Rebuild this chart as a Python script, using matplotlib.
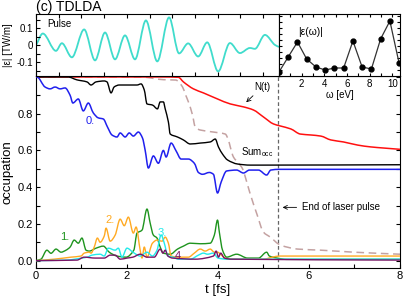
import numpy as np
import matplotlib
matplotlib.use('Agg')
import matplotlib.pyplot as plt
from matplotlib.path import Path
from matplotlib.patches import PathPatch
from matplotlib.ticker import MultipleLocator, FixedLocator

plt.rcParams['font.family'] = ['Liberation Sans', 'DejaVu Sans']
plt.rcParams['mathtext.fontset'] = 'custom'
plt.rcParams['mathtext.rm'] = 'Liberation Sans'
plt.rcParams['mathtext.it'] = 'Liberation Sans:italic'
plt.rcParams['axes.unicode_minus'] = False

# laser pulse |e| [TW/m] vs t [fs]
pulse_t = [0.0, 0.15, 0.44, 0.57, 0.79, 1.06, 1.30, 1.52, 1.74, 1.96, 2.18, 2.42, 2.67,
           2.93, 3.15, 3.35, 3.57, 3.77, 4.01, 4.27, 4.49, 4.71, 4.82, 5.04, 5.26, 5.35]
pulse_e = [0.0, 0.07, -0.032, 0.013, -0.07, 0.094, -0.088, 0.076, -0.082, 0.059, -0.082,
           0.147, -0.094, 0.165, -0.047, 0.012, -0.065, 0.018, -0.153, 0.014, -0.045,
           -0.015, -0.02, 0.062, 0.003, -0.009]

# spectrum |e(w)|
omega = [0, 0.81, 1.63, 2.44, 3.26, 4.07, 4.89, 5.70, 6.52, 7.33, 8.15, 8.96, 9.78, 10.59]
eps_w = [4, 19, 34, 17, 9, 6, 8, 8, 35, 9, 7, 37, 55, 13]

# N(t)
n_t = [0, 2.8, 3.13, 3.24, 3.46, 3.68, 3.99, 4.27, 4.56, 4.78, 5.0, 5.22, 5.37, 5.6,
       5.81, 6.04, 6.26, 6.48, 6.76, 7.07, 7.36, 7.64, 8.0]
n_v = [1.0, 1.0, 0.998, 0.973, 0.935, 0.913, 0.880, 0.853, 0.837, 0.82, 0.782, 0.744,
       0.733, 0.717, 0.689, 0.684, 0.678, 0.657, 0.646, 0.629, 0.619, 0.613, 0.606]

# Sum_occ
s_t = [0, 0.7, 0.9, 1.12, 1.21, 1.32, 1.50, 1.56, 1.65, 1.72, 1.83, 2.0, 2.22, 2.31,
       2.38, 2.44, 2.56, 2.67, 2.73, 2.80, 2.84, 2.91, 2.95, 3.11, 3.24, 3.39, 3.61,
       3.83, 3.94, 4.01, 4.10, 4.21, 4.43, 4.71, 5.0, 8.0]
s_v = [1.0, 1.0, 0.984, 0.973, 0.956, 0.973, 0.978, 0.973, 0.913, 0.946, 0.956, 0.956,
       0.956, 0.962, 0.929, 0.853, 0.847, 0.826, 0.864, 0.864, 0.826, 0.755, 0.689,
       0.673, 0.657, 0.635, 0.640, 0.646, 0.662, 0.619, 0.580, 0.548, 0.526, 0.520,
       0.520, 0.522]

# orbital 0
b_t = [0, 0.02, 0.2, 0.31, 0.42, 0.53, 0.64, 0.75, 0.81, 0.93, 1.04, 1.15, 1.26, 1.37,
       1.48, 1.57, 1.67, 1.78, 1.85, 1.96, 2.05, 2.14, 2.25, 2.34, 2.40, 2.47, 2.58,
       2.69, 2.80, 2.86, 2.97, 3.08, 3.19, 3.35, 3.48, 3.57, 3.66, 3.81, 3.90, 3.99,
       4.07, 4.19, 4.41, 4.56, 4.69, 4.89, 5.07, 5.16, 5.35, 8.0]
b_v = [1.0, 1.0, 0.945, 0.935, 0.945, 0.935, 0.94, 0.90, 0.858, 0.880, 0.815, 0.858,
       0.804, 0.777, 0.771, 0.728, 0.684, 0.673, 0.695, 0.673, 0.695, 0.678, 0.70,
       0.668, 0.60, 0.504, 0.57, 0.53, 0.60, 0.564, 0.64, 0.597, 0.553, 0.553, 0.53,
       0.48, 0.47, 0.48, 0.47, 0.368, 0.428, 0.488, 0.493, 0.477, 0.493, 0.493, 0.466,
       0.493, 0.497, 0.497]

# dashed curve
d_t = [0, 2.3, 2.8, 3.07, 3.22, 3.28, 3.35, 3.44, 3.50, 3.61, 3.90, 4.16, 4.23, 4.27,
       4.34, 4.45, 4.54, 4.63, 4.70, 4.86, 5.0, 5.15, 5.37, 5.75, 6.26, 6.99, 8.0]
d_v = [1.0, 1.0, 0.985, 0.983, 0.946, 0.907, 0.864, 0.793, 0.727, 0.711, 0.70, 0.689,
       0.656, 0.619, 0.564, 0.531, 0.50, 0.43, 0.37, 0.25, 0.155, 0.128, 0.085, 0.063,
       0.057, 0.046, 0.035]

# orbital 1
g_t = [0, 0.11, 0.24, 0.33, 0.44, 0.55, 0.66, 0.75, 0.84, 0.93, 1.01, 1.10, 1.17, 1.32,
       1.48, 1.61, 1.78, 1.98, 2.15, 2.22, 2.33, 2.44, 2.51, 2.58, 2.66, 2.73, 2.80,
       2.95, 3.11, 3.24, 3.39, 3.61, 3.83, 3.92, 3.99, 4.03, 4.10, 4.19, 4.41, 4.65,
       4.89, 5.07, 5.13, 5.30, 5.5, 8.0]
g_v = [0, 0.008, 0.057, 0.04, 0.063, 0.046, 0.057, 0.074, 0.112, 0.095, 0.123, 0.057,
       0.052, 0.068, 0.079, 0.046, 0.025, 0.019, 0.057, 0.150, 0.166, 0.281, 0.204,
       0.139, 0.123, 0.074, 0.041, 0.035, 0.063, 0.079, 0.095, 0.092, 0.095, 0.139,
       0.221, 0.155, 0.057, 0.019, 0.035, 0.014, 0.014, 0.046, 0.025, 0.014, 0.007,
       0.007]

# orbital 2
o_t = [0, 0.4, 0.77, 0.99, 1.06, 1.17, 1.21, 1.28, 1.35, 1.41, 1.50, 1.54, 1.63, 1.74,
       1.85, 1.94, 2.03, 2.14, 2.20, 2.29, 2.33, 2.38, 2.44, 2.56, 2.66, 2.77, 2.84,
       2.91, 2.97, 3.13, 3.35, 3.48, 3.61, 3.72, 3.83, 3.92, 3.99, 4.1, 4.21, 5.0, 5.2,
       5.35, 8.0]
o_v = [0, 0.008, 0.019, 0.025, 0.041, 0.046, 0.041, 0.074, 0.123, 0.10, 0.134, 0.177,
       0.106, 0.139, 0.226, 0.19, 0.237, 0.15, 0.183, 0.057, 0.014, 0.074, 0.019,
       0.095, 0.112, 0.106, 0.128, 0.095, 0.025, 0.019, 0.019, 0.041, 0.063, 0.052,
       0.063, 0.046, 0.046, 0.025, 0.008, 0.008, 0.019, 0.025, 0.025]

# orbital 3
c_t = [0, 0.68, 1.0, 1.13, 1.23, 1.41, 1.50, 1.59, 1.74, 1.81, 1.89, 2.0, 2.13, 2.29,
       2.44, 2.56, 2.66, 2.75, 2.82, 2.9, 3.02, 3.13, 3.39, 3.57, 3.68, 3.77, 3.90,
       4.0, 4.2, 8.0]
c_v = [0, 0.003, 0.014, 0.019, 0.030, 0.035, 0.025, 0.068, 0.057, 0.068, 0.019, 0.068,
       0.046, 0.025, 0.046, 0.025, 0.057, 0.14, 0.095, 0.025, 0.019, 0.008, 0.008, 0.03,
       0.041, 0.035, 0.041, 0.014, 0.008, 0.008]

# orbital 4
p_t = [0, 0.9, 1.06, 1.3, 1.5, 1.63, 1.74, 1.85, 2.0, 2.13, 2.29, 2.44, 2.6, 2.73,
       2.79, 2.84, 2.9, 3.0, 3.5, 3.9, 3.96, 4.01, 4.06, 4.14, 4.3, 8.0]
p_v = [0, 0.003, 0.019, 0.014, 0.014, 0.030, 0.030, 0.008, 0.014, 0.019, 0.035, 0.019,
       0.019, 0.063, 0.041, 0.057, 0.025, 0.014, 0.008, 0.025, 0.052, 0.019, 0.041,
       0.014, 0.008, 0.003]

t_end = 5.33


def smooth(ax, x, y, **kw):
    # draw a smooth curve through the read points (monotone cubic bezier)
    x = np.asarray(x, float)
    y = np.asarray(y, float)
    h = np.diff(x)
    d = np.diff(y) / h
    m = np.zeros_like(y)
    m[0], m[-1] = d[0], d[-1]
    for i in range(1, len(y) - 1):
        if d[i - 1] * d[i] > 0:
            m[i] = 2.0 / (1.0 / d[i - 1] + 1.0 / d[i])
    verts = [(x[0], y[0])]
    codes = [Path.MOVETO]
    for i in range(len(x) - 1):
        verts += [(x[i] + h[i] / 3, y[i] + m[i] * h[i] / 3),
                  (x[i + 1] - h[i] / 3, y[i + 1] - m[i + 1] * h[i] / 3),
                  (x[i + 1], y[i + 1])]
        codes += [Path.CURVE4] * 3
    ax.add_patch(PathPatch(Path(verts, codes), fill=False, joinstyle='round', **kw))


fig = plt.figure(figsize=(4.03, 2.99), dpi=100)
ax = fig.add_axes([0.0893, 0.1037, 0.9032, 0.6421])
ax_p = fig.add_axes([0.0893, 0.7458, 0.6030, 0.2074])
ax_w = fig.add_axes([0.6923, 0.7458, 0.3002, 0.2074])

# main panel
smooth(ax, n_t, n_v, color='#ff1010', lw=1.1, zorder=3)
smooth(ax, d_t, d_v, color='#c4a2a2', lw=1.1, linestyle=(0, (5, 3)), zorder=2)
smooth(ax, s_t, s_v, color='black', lw=1.0, zorder=3)
smooth(ax, b_t, b_v, color='#2020ee', lw=1.1, zorder=3)
smooth(ax, g_t, g_v, color='#1e941e', lw=1.0, zorder=3)
smooth(ax, o_t, o_v, color='#ffaa22', lw=1.0, zorder=3)
smooth(ax, c_t, c_v, color='#22eaea', lw=1.0, zorder=3)
smooth(ax, p_t, p_v, color='#7a1466', lw=1.0, zorder=4)
ax.axvline(t_end, color='#666666', lw=0.9, linestyle=(0, (3, 2)), zorder=1)

ax.set_xlim(0, 8)
ax.set_ylim(-0.04, 1.005)
ax.xaxis.set_major_locator(MultipleLocator(2))
ax.xaxis.set_minor_locator(MultipleLocator(1))
ax.yaxis.set_major_locator(FixedLocator([0, 0.2, 0.4, 0.6, 0.8]))
ax.yaxis.set_minor_locator(MultipleLocator(0.1))
ax.tick_params(which='both', direction='in', length=3, width=0.8, right=True,
               labelsize=8, pad=2.5)
ax.set_xlabel('t [fs]', fontsize=9.5, labelpad=1.5)
ax.set_ylabel('occupation', fontsize=9.5)
ax.yaxis.set_label_coords(-0.063, 0.5)

ax.text(1.19, 0.76, '0.', color='#2020ee', fontsize=8, ha='center', va='center')
ax.text(0.64, 0.127, '1.', color='#1e941e', fontsize=8, ha='center', va='center')
ax.text(1.63, 0.22, '2.', color='#ffaa22', fontsize=8, ha='center', va='center')
ax.text(2.77, 0.149, '3.', color='#22eaea', fontsize=8, ha='center', va='center')
ax.text(3.14, 0.026, '4.', color='#7a1466', fontsize=8, ha='center', va='center')
ax.text(4.51, 0.574, 'Sum$_{\\mathrm{occ}}$', fontsize=7, ha='left', va='baseline')
ax.annotate('N(t)', xy=(4.62, 0.862), xytext=(4.97, 0.945), fontsize=7,
            ha='center', va='center',
            arrowprops=dict(arrowstyle='->', lw=0.6, color='black',
                            shrinkA=1, shrinkB=0))
ax.annotate('End of laser pulse', xy=(5.42, 0.29), xytext=(5.85, 0.29), fontsize=7,
            ha='left', va='center',
            arrowprops=dict(arrowstyle='->', lw=0.6, color='black',
                            shrinkA=2, shrinkB=0))

# pulse panel
smooth(ax_p, pulse_t, pulse_e, color='#40dccc', lw=1.3)
ax_p.set_xlim(0, 5.35)
ax_p.set_ylim(-0.18, 0.185)
ax_p.xaxis.set_major_locator(MultipleLocator(0.5))
ax_p.yaxis.set_major_locator(FixedLocator([-0.1, 0, 0.1]))
ax_p.yaxis.set_minor_locator(MultipleLocator(0.05))
ax_p.set_yticklabels(['-0.1', '0', '0.1'])
ax_p.tick_params(which='both', direction='in', length=3, width=0.8, top=True,
                 labelbottom=False, labelsize=7, pad=2)
ax_p.set_ylabel('|ε| [TW/m]', fontsize=7)
ax_p.yaxis.set_label_coords(-0.095, 0.5)
ax_p.text(0.24, 0.126, 'Pulse', fontsize=7, ha='left', va='center')

# spectrum inset
ax_w.plot(omega, eps_w, color='#333333', lw=0.9, marker='o', ms=3.5,
          mfc='black', mec='black')
ax_w.set_xlim(0, 10.67)
ax_w.set_ylim(0, 62)
ax_w.xaxis.set_major_locator(FixedLocator([2, 4, 6, 8, 10]))
ax_w.xaxis.set_minor_locator(MultipleLocator(1))
ax_w.yaxis.set_major_locator(MultipleLocator(6))
ax_w.tick_params(which='both', direction='in', length=2.5, width=0.8, top=True,
                 right=True, labelleft=False, labelsize=7, pad=2)
ax_w.set_xlabel('ω [eV]', fontsize=7, labelpad=1)
ax_w.text(1.73, 44, '|ε(ω)|', fontsize=7.5, ha='left', va='center')

for a in (ax, ax_p, ax_w):
    for s in a.spines.values():
        s.set_linewidth(0.8)

fig.text(0.089, 0.963, '(c) TDLDA', fontsize=10, ha='left', va='baseline')

fig.savefig('out.png', dpi=100)
